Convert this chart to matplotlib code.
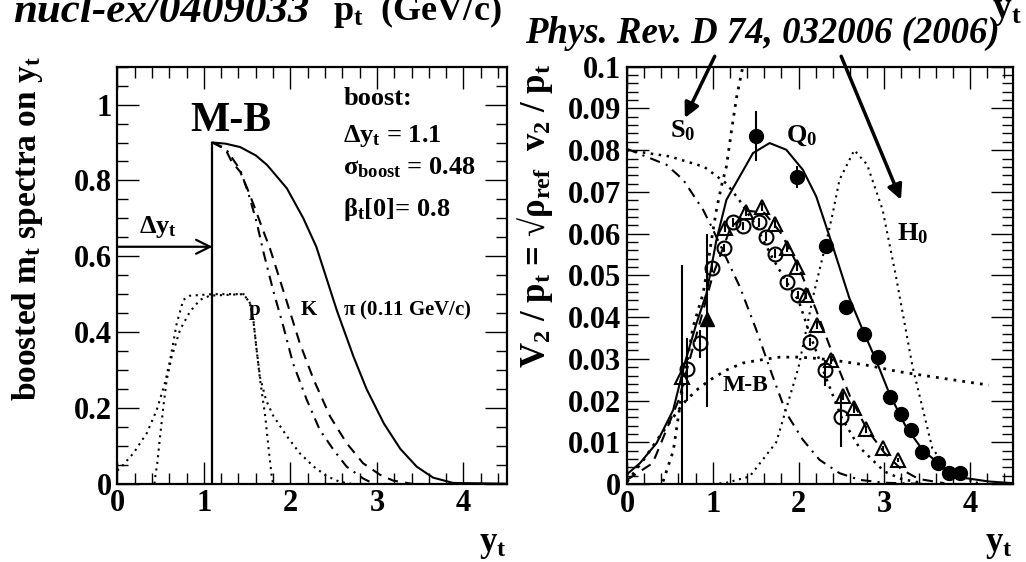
import matplotlib
matplotlib.use("Agg")
import matplotlib.pyplot as plt
from matplotlib.ticker import MultipleLocator, FuncFormatter

plt.rcParams['font.family'] = ['Liberation Serif', 'DejaVu Serif']
plt.rcParams['font.weight'] = 'bold'
plt.rcParams['axes.labelweight'] = 'bold'
plt.rcParams['mathtext.fontset'] = 'custom'
plt.rcParams['mathtext.rm'] = 'Liberation Serif:bold'
plt.rcParams['mathtext.it'] = 'Liberation Serif:bold'
plt.rcParams['mathtext.bf'] = 'Liberation Serif:bold'
plt.rcParams['mathtext.default'] = 'rm'

# ---- left panel: boosted m_t spectra ----
pi_x = [1.10, 1.25, 1.42, 1.60, 1.73, 1.96, 2.15, 2.30, 2.54, 2.73, 2.88, 3.08, 3.27, 3.46, 3.65, 3.88, 4.50]
pi_y = [0.900, 0.897, 0.888, 0.866, 0.841, 0.779, 0.700, 0.625, 0.455, 0.335, 0.250, 0.159, 0.092, 0.045, 0.016, 0.002, 0.0]
k_x = [1.10, 1.245, 1.32, 1.42, 1.50, 1.59, 1.69, 1.765, 1.88, 2.00, 2.11, 2.27, 2.46, 2.65, 2.84, 3.04, 3.19, 3.40]
k_y = [0.900, 0.885, 0.850, 0.823, 0.780, 0.727, 0.665, 0.620, 0.537, 0.450, 0.370, 0.274, 0.177, 0.107, 0.054, 0.023, 0.008, 0.0]
p_x = [1.10, 1.265, 1.42, 1.515, 1.61, 1.69, 1.80, 1.92, 2.03, 2.19, 2.34, 2.50, 2.65, 2.84, 2.96]
p_y = [0.900, 0.880, 0.828, 0.766, 0.690, 0.610, 0.511, 0.414, 0.318, 0.221, 0.142, 0.089, 0.045, 0.014, 0.0]
wide_x = [0.0, 0.03, 0.185, 0.34, 0.455, 0.55, 0.61, 0.687, 0.763, 0.84, 1.10, 1.46, 1.534, 1.572, 1.61, 1.65, 1.72, 1.80, 1.96, 2.11, 2.27, 2.42, 2.57, 2.70]
wide_y = [0.035, 0.040, 0.080, 0.133, 0.194, 0.265, 0.326, 0.423, 0.485, 0.496, 0.500, 0.500, 0.476, 0.432, 0.353, 0.280, 0.220, 0.180, 0.125, 0.080, 0.045, 0.020, 0.005, 0.0]
narrow_x = [0.43, 0.436, 0.462, 0.494, 0.532, 0.571, 0.629, 0.725, 0.84, 0.956, 1.07, 1.46, 1.534, 1.572, 1.61, 1.65, 1.71, 1.746, 1.785, 1.80]
narrow_y = [0.0, 0.014, 0.054, 0.124, 0.203, 0.274, 0.335, 0.406, 0.454, 0.485, 0.496, 0.500, 0.476, 0.432, 0.353, 0.274, 0.177, 0.098, 0.018, 0.0]
boost_dy = 1.1
boost_top = 0.9
arrow_y = 0.625

# ---- right panel: v2/pt on y_t ----
fill_x = [1.508, 1.985, 2.322, 2.555, 2.76, 2.927, 3.07, 3.19, 3.31, 3.44, 3.62, 3.756, 3.88]
fill_y = [0.0833, 0.0735, 0.0571, 0.0424, 0.0360, 0.0305, 0.0209, 0.0167, 0.0129, 0.0076, 0.0050, 0.0027, 0.0026]
fill_lo = [0.0060, 0.0026, 0.0010, 0.0010, 0.0008, 0.0008, 0.0006, 0.0006, 0.0005, 0.0005, 0.0004, 0.0004, 0.0004]
fill_hi = [0.0060, 0.0026, 0.0010, 0.0010, 0.0008, 0.0008, 0.0006, 0.0006, 0.0005, 0.0005, 0.0004, 0.0004, 0.0004]
circ_x = [0.70, 0.849, 0.992, 1.128, 1.236, 1.353, 1.539, 1.624, 1.729, 1.864, 1.99, 2.128, 2.314, 2.497]
circ_y = [0.0275, 0.0337, 0.0517, 0.0565, 0.0627, 0.0619, 0.0627, 0.0593, 0.0552, 0.0483, 0.0453, 0.0340, 0.0273, 0.0160]
circ_lo = [0.0075, 0.0036, 0.0010, 0.0010, 0.0010, 0.0010, 0.0010, 0.0010, 0.0010, 0.0010, 0.0010, 0.0010, 0.0039, 0.0071]
circ_hi = [0.0075, 0.0032, 0.0010, 0.0010, 0.0010, 0.0010, 0.0010, 0.0010, 0.0010, 0.0010, 0.0010, 0.0010, 0.0024, 0.0058]
tri_x = [0.636, 1.14, 1.39, 1.574, 1.729, 1.868, 1.98, 2.09, 2.213, 2.38, 2.515, 2.643, 2.787, 2.98, 3.155]
tri_y = [0.0257, 0.0613, 0.0653, 0.0664, 0.0623, 0.0565, 0.0521, 0.0453, 0.0381, 0.0297, 0.0211, 0.0182, 0.0131, 0.0086, 0.0058]
tri_lo = [0.0257, 0.0010, 0.0010, 0.0010, 0.0010, 0.0010, 0.0010, 0.0010, 0.0010, 0.0010, 0.0010, 0.0012, 0.0008, 0.0006, 0.0005]
tri_hi = [0.0268, 0.0010, 0.0010, 0.0010, 0.0010, 0.0010, 0.0010, 0.0010, 0.0010, 0.0010, 0.0010, 0.0012, 0.0008, 0.0006, 0.0005]
ftri_x = [0.93]
ftri_y = [0.0395]
ftri_lo = [0.0210]
ftri_hi = [0.0205]

q0_x = [0.0, 0.015, 0.151, 0.345, 0.538, 0.674, 0.81, 0.927, 1.043, 1.159, 1.314, 1.469, 1.663, 1.857, 2.05, 2.206, 2.40, 2.593, 2.748, 2.903, 3.058, 3.252, 3.445, 3.678, 3.95, 4.22, 4.5]
q0_y = [0.0020, 0.0026, 0.0050, 0.0098, 0.0177, 0.0290, 0.0385, 0.0457, 0.0585, 0.0681, 0.0737, 0.0793, 0.0817, 0.0801, 0.0753, 0.0689, 0.0569, 0.0445, 0.0369, 0.0297, 0.0217, 0.0137, 0.0082, 0.0041, 0.0014, 0.0006, 0.0002]
s0_x = [0.0, 0.46, 0.655, 0.887, 0.985, 1.314, 1.508, 1.70, 1.857, 2.05, 2.244, 2.477, 2.71, 3.0, 3.5]
s0_y = [0.0803, 0.0765, 0.0729, 0.0657, 0.0617, 0.0473, 0.0369, 0.0257, 0.0170, 0.0106, 0.0058, 0.0026, 0.0010, 0.0003, 0.0]
s0w_x = [0.0, 0.5, 0.9, 1.16, 1.31, 1.5, 1.7, 1.9, 2.0, 2.13, 2.31, 2.5, 2.7, 3.0, 3.2, 3.4]
s0w_y = [0.0800, 0.0785, 0.0760, 0.0720, 0.0680, 0.0620, 0.0540, 0.0470, 0.0440, 0.0360, 0.0260, 0.0160, 0.0090, 0.0030, 0.0012, 0.0004]
h0_x = [1.0, 1.16, 1.43, 1.74, 2.0, 2.17, 2.32, 2.40, 2.477, 2.65, 2.80, 2.98, 3.136, 3.33, 3.56, 3.8, 4.1]
h0_y = [0.0, 0.0003, 0.0018, 0.0100, 0.0280, 0.0450, 0.0577, 0.0650, 0.0729, 0.0800, 0.0765, 0.0657, 0.0497, 0.0280, 0.0085, 0.0020, 0.0002]
steep_x = [0.42, 0.54, 0.655, 0.771, 0.888, 0.927, 0.985, 1.043, 1.10, 1.159, 1.217, 1.276, 1.35]
steep_y = [0.0006, 0.0080, 0.0240, 0.0377, 0.0457, 0.0505, 0.0585, 0.0657, 0.0713, 0.0761, 0.0845, 0.0925, 0.1000]
mb_x = [0.0, 0.2, 0.4, 0.655, 0.81, 0.965, 1.159, 1.353, 1.547, 1.78, 2.01, 2.206, 2.40, 2.787, 3.174, 3.56, 3.95, 4.22]
mb_y = [0.0005, 0.0060, 0.0120, 0.0193, 0.0225, 0.0249, 0.0273, 0.0290, 0.0297, 0.0304, 0.0304, 0.0301, 0.0297, 0.0285, 0.0269, 0.0257, 0.0245, 0.0237]
trfit_x = [0.0, 0.3, 0.6, 0.8, 1.0, 1.2, 1.4, 1.6, 1.8, 2.0, 2.2, 2.4, 2.6, 2.8, 3.0, 3.2, 3.4, 3.7]
trfit_y = [0.0010, 0.0050, 0.0200, 0.0350, 0.0500, 0.0610, 0.0655, 0.0650, 0.0600, 0.0520, 0.0420, 0.0310, 0.0210, 0.0130, 0.0075, 0.0035, 0.0012, 0.0002]

fig = plt.figure(figsize=(10.26, 5.62), dpi=100)
ax1 = fig.add_axes([117.3 / 1026, 1 - 483.7 / 562, 389.4 / 1026, 417 / 562])
ax2 = fig.add_axes([627 / 1026, 1 - 484 / 562, 386 / 1026, 417.3 / 562])

dot = (0, (1, 2.2))
dash = (0, (5, 3.5))
dashdot = (0, (5, 3, 1, 3))

fmt = FuncFormatter(lambda v, p: '%g' % round(v, 4))
for ax in (ax1, ax2):
    ax.set_xlim(0, 4.5)
    ax.xaxis.set_major_locator(MultipleLocator(1))
    ax.xaxis.set_minor_locator(MultipleLocator(0.2))
    ax.tick_params(which='both', direction='in', top=True, right=True, width=1, labelsize=22, pad=4)
    ax.tick_params(which='major', length=16)
    ax.tick_params(which='minor', length=8)
    ax.xaxis.set_major_formatter(fmt)
    ax.yaxis.set_major_formatter(fmt)
    for s in ax.spines.values():
        s.set_linewidth(1.6)
    ax.text(1.0, -0.161, r'$y_t$', transform=ax.transAxes, ha='right', va='baseline', fontsize=25)

# left panel
ax1.set_ylim(0, 1.1)
ax1.yaxis.set_major_locator(MultipleLocator(0.2))
ax1.yaxis.set_minor_locator(MultipleLocator(0.05))
ax1.plot(pi_x, pi_y, color='black', lw=1.5)
ax1.plot(k_x, k_y, color='black', lw=1.5, linestyle=dash)
ax1.plot(p_x, p_y, color='black', lw=1.5, linestyle=dashdot)
ax1.plot(wide_x, wide_y, color='black', lw=1.5, linestyle=dot)
ax1.plot(narrow_x, narrow_y, color='black', lw=1.5, linestyle=dot)
ax1.plot([boost_dy, boost_dy], [0, boost_top], color='black', lw=1.6)
ax1.annotate('', xy=(boost_dy, arrow_y), xytext=(0, arrow_y),
             arrowprops=dict(arrowstyle='->', lw=1.6, color='black', mutation_scale=25, shrinkA=0, shrinkB=0))
ax1.text(0.25, 0.678, r'$\Delta y_t$', fontsize=19, va='center')
ax1.text(1.31, 0.957, 'M-B', fontsize=30, ha='center', va='center')
ax1.text(2.61, 1.017, 'boost:', fontsize=19, va='center')
ax1.text(2.61, 0.916, r'$\Delta y_t$ = 1.1', fontsize=19, va='center')
ax1.text(2.61, 0.833, r'$\sigma_{boost}$ = 0.48', fontsize=19, va='center')
ax1.text(2.61, 0.722, r'$\beta_t$[0]= 0.8', fontsize=19, va='center')
ax1.text(1.52, 0.458, 'p', fontsize=15, va='center')
ax1.text(2.12, 0.458, 'K', fontsize=15, va='center')
ax1.text(2.61, 0.458, r'$\pi$ (0.11 GeV/c)', fontsize=15, va='center')
ax1.set_ylabel(r'boosted $m_t$ spectra on $y_t$', fontsize=24)
ax1.yaxis.set_label_coords(-0.186, 0.613)

# right panel
ax2.set_ylim(0, 0.1)
ax2.yaxis.set_major_locator(MultipleLocator(0.01))
ax2.yaxis.set_minor_locator(MultipleLocator(0.002))
ax2.plot(q0_x, q0_y, color='black', lw=1.5)
ax2.plot(s0_x, s0_y, color='black', lw=1.5, linestyle=dashdot)
ax2.plot(s0w_x, s0w_y, color='black', lw=1.8, linestyle=dot)
ax2.plot(h0_x, h0_y, color='black', lw=1.5, linestyle=dot)
ax2.plot(steep_x, steep_y, color='black', lw=2, linestyle=dot)
ax2.plot(mb_x, mb_y, color='black', lw=2, linestyle=dot)
ax2.plot(trfit_x, trfit_y, color='black', lw=1.5, linestyle=dash)
ax2.errorbar(fill_x, fill_y, yerr=[fill_lo, fill_hi], fmt='o', color='black', ms=10, elinewidth=1.5, capsize=0)
ax2.errorbar(circ_x, circ_y, yerr=[circ_lo, circ_hi], fmt='o', mfc='none', mec='black', color='black', ms=10, mew=1.5, elinewidth=1.5, capsize=0)
ax2.errorbar(tri_x, tri_y, yerr=[tri_lo, tri_hi], fmt='^', mfc='none', mec='black', color='black', ms=10, mew=1.5, elinewidth=1.5, capsize=0)
ax2.errorbar(ftri_x, ftri_y, yerr=[ftri_lo, ftri_hi], fmt='^', color='black', ms=10, elinewidth=1.5, capsize=0)
ax2.text(0.50, 0.0847, r'$S_0$', fontsize=19, va='center')
ax2.text(1.855, 0.0835, r'$Q_0$', fontsize=19, va='center')
ax2.text(3.15, 0.060, r'$H_0$', fontsize=19, va='center')
ax2.text(1.12, 0.0237, 'M-B', fontsize=17, va='center')
ax2.set_ylabel(r'$V_2$ / $p_t$ = √$\rho_{ref}$  $v_2$ / $p_t$', fontsize=25)
ax2.yaxis.set_label_coords(-0.187, 0.642)

arr = dict(arrowstyle='-|>', lw=2.5, color='black', mutation_scale=22, shrinkA=0, shrinkB=0)
ax2.annotate('', xy=(0.674, 0.0877), xytext=(1.023, 0.1025), arrowprops=arr, annotation_clip=False)
ax2.annotate('', xy=(3.194, 0.0681), xytext=(2.497, 0.1025), arrowprops=arr, annotation_clip=False)

# titles / leftover labels at the top
fig.text(525 / 1026, 1 - 43 / 562, 'Phys. Rev. D 74, 032006 (2006)', fontsize=26.5, style='italic', va='baseline')
fig.text(13 / 1026, 1 - 22 / 562, 'nucl-ex/0409033', fontsize=31, style='italic', va='baseline')
fig.text(333 / 1026, 1 - 20 / 562, r'$p_t$  (GeV/c)', fontsize=26, va='baseline')
fig.text(1022 / 1026, 1 - 18 / 562, r'$y_t$', fontsize=27, ha='right', va='baseline')

fig.savefig('out.png', dpi=100)
